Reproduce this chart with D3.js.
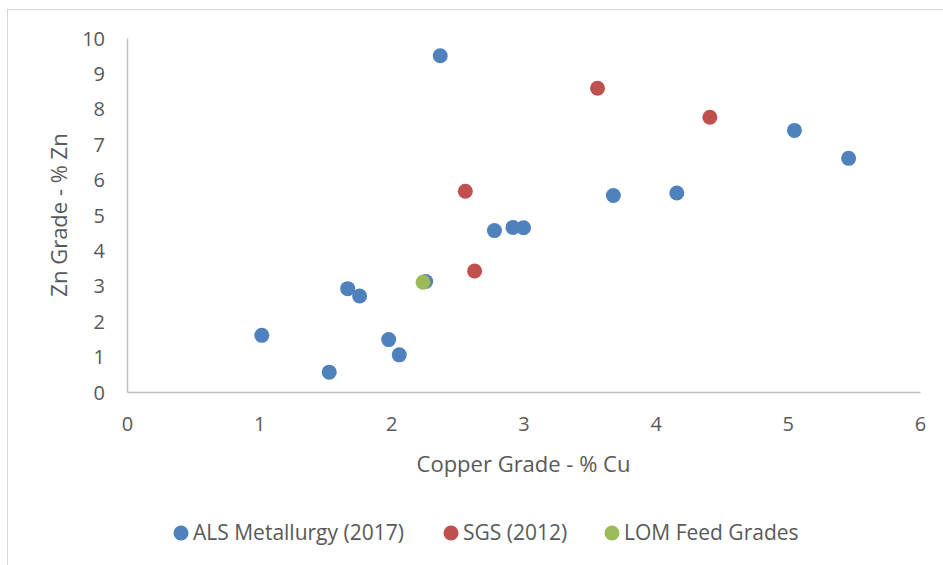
<!DOCTYPE html>
<html lang="en">
<head>
    <meta charset="UTF-8">
    <title>Cu vs Zn Grade</title>
    <script src="https://cdnjs.cloudflare.com/ajax/libs/d3/7.8.5/d3.min.js"></script>
    <style>
        * { margin: 0; padding: 0; box-sizing: border-box; }
        body { background: #fff; font-family: 'Open Sans', sans-serif; }
        svg text { fill: #595959; }
    </style>
</head>
<body>
    <div id="chart"></div>
    <script>
        // ALS Metallurgy (2017)
        const alsCu = [2.37, 5.05, 5.46, 3.68, 4.16, 2.78, 2.92, 3.00, 2.26, 1.67, 1.76, 1.02, 1.98, 2.06, 1.53];
        const alsZn = [9.50, 7.39, 6.60, 5.55, 5.62, 4.56, 4.65, 4.64, 3.12, 2.92, 2.71, 1.60, 1.48, 1.05, 0.56];
        // SGS (2012)
        const sgsCu = [3.56, 4.41, 2.56, 2.63];
        const sgsZn = [8.58, 7.76, 5.67, 3.42];
        // LOM Feed Grades
        const lomCu = [2.24];
        const lomZn = [3.10];

        const seriesNames = ['ALS Metallurgy (2017)', 'SGS (2012)', 'LOM Feed Grades'];
        const seriesColors = ['#4F81BD', '#C0504D', '#9BBB59'];
        const xTicks = [0, 1, 2, 3, 4, 5, 6];
        const yTicks = [0, 1, 2, 3, 4, 5, 6, 7, 8, 9, 10];

        const width = 943, height = 565;
        const margin = { left: 127, right: 23, top: 38, bottom: 173 };

        const svg = d3.select('#chart').append('svg')
            .attr('width', width)
            .attr('height', height);

        // chart border
        svg.append('rect')
            .attr('x', 7.5).attr('y', 9.5)
            .attr('width', 960).attr('height', 600)
            .attr('fill', 'none')
            .attr('stroke', '#d9d9d9')
            .attr('stroke-width', 1);

        const x = d3.scaleLinear().domain([0, 6]).range([margin.left, width - margin.right]);
        const y = d3.scaleLinear().domain([0, 10]).range([height - margin.bottom, margin.top]);

        const xAxis = svg.append('g')
            .attr('transform', `translate(0,${y(0)})`)
            .call(d3.axisBottom(x).tickValues(xTicks).tickFormat(d3.format('d')).tickSize(0).tickPadding(25));
        const yAxis = svg.append('g')
            .attr('transform', `translate(${x(0)},0)`)
            .call(d3.axisLeft(y).tickValues(yTicks).tickFormat(d3.format('d')).tickSize(0).tickPadding(22));

        [xAxis, yAxis].forEach(a => {
            a.select('.domain').attr('stroke', '#bfbfbf').attr('stroke-width', 1.5);
            a.selectAll('text')
                .style('font-family', "'Open Sans', sans-serif")
                .style('font-size', '20px')
                .attr('fill', '#595959');
        });
        yAxis.selectAll('text').attr('dy', '0.35em');

        // axis titles
        svg.append('text')
            .attr('x', (x(0) + x(6)) / 2)
            .attr('y', 472)
            .attr('text-anchor', 'middle')
            .style('font-size', '22px')
            .text('Copper Grade - % Cu');

        svg.append('text')
            .attr('transform', `translate(67,${(y(0) + y(10)) / 2}) rotate(-90)`)
            .attr('text-anchor', 'middle')
            .style('font-size', '22px')
            .text('Zn Grade - % Zn');

        const series = [
            { cu: alsCu, zn: alsZn },
            { cu: sgsCu, zn: sgsZn },
            { cu: lomCu, zn: lomZn }
        ];

        series.forEach((s, i) => {
            svg.append('g')
                .selectAll('circle')
                .data(s.cu.map((c, j) => [c, s.zn[j]]))
                .enter()
                .append('circle')
                .attr('cx', d => x(d[0]))
                .attr('cy', d => y(d[1]))
                .attr('r', 7.5)
                .attr('fill', seriesColors[i]);
        });

        // legend
        const legendX = [181, 451, 612];
        const legend = svg.append('g');
        seriesNames.forEach((name, i) => {
            legend.append('circle')
                .attr('cx', legendX[i])
                .attr('cy', 533)
                .attr('r', 7.5)
                .attr('fill', seriesColors[i]);
            legend.append('text')
                .attr('x', legendX[i] + 12)
                .attr('y', 533)
                .attr('dy', '0.35em')
                .style('font-size', '21px')
                .text(name);
        });
    </script>
</body>
</html>
